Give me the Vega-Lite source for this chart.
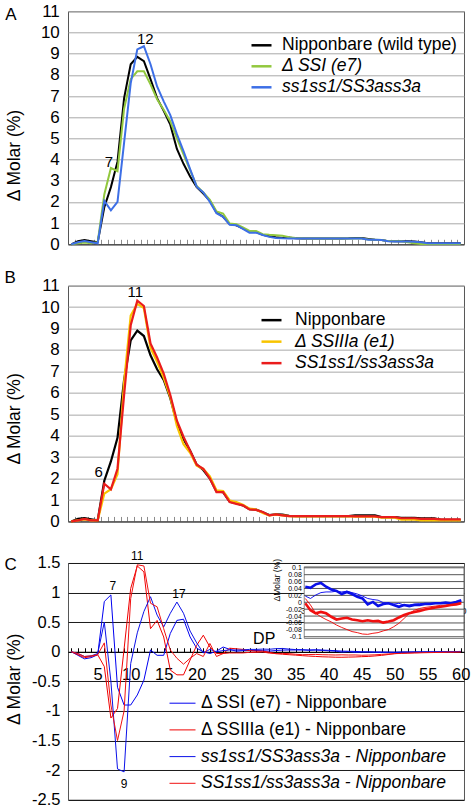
{
"$schema": "https://vega.github.io/schema/vega-lite/v6.json",
"padding": {"left": 3, "top": 1.3, "right": 5, "bottom": 0},
"config": {
  "font": "Liberation Sans",
  "view": {"stroke": "#555555", "strokeWidth": 1},
  "axis": {"labelFont": "Liberation Sans", "titleFont": "Liberation Sans", "labelColor": "#000000", "titleColor": "#000000", "titleFontWeight": "normal", "labelOverlap": false, "labelFlush": false},
  "legend": {"labelFont": "Liberation Sans", "labelColor": "#000000", "labelLimit": 400},
  "text": {"font": "Liberation Sans", "color": "#000000"}
},
"datasets": {
"A": [
{"s":"N","dp":1,"v":0},{"s":"N","dp":2,"v":0.15},{"s":"N","dp":3,"v":0.2},{"s":"N","dp":4,"v":0.15},{"s":"N","dp":5,"v":0.1},{"s":"N","dp":6,"v":1.75},{"s":"N","dp":7,"v":2.7},{"s":"N","dp":8,"v":3.9},{"s":"N","dp":9,"v":6.9},{"s":"N","dp":10,"v":8.5},
{"s":"N","dp":11,"v":8.85},{"s":"N","dp":12,"v":8.65},{"s":"N","dp":13,"v":7.8},{"s":"N","dp":14,"v":6.9},{"s":"N","dp":15,"v":6.3},{"s":"N","dp":16,"v":5.65},{"s":"N","dp":17,"v":4.5},{"s":"N","dp":18,"v":3.8},{"s":"N","dp":19,"v":3.2},{"s":"N","dp":20,"v":2.7},
{"s":"N","dp":21,"v":2.4},{"s":"N","dp":22,"v":2.05},{"s":"N","dp":23,"v":1.5},{"s":"N","dp":24,"v":1.3},{"s":"N","dp":25,"v":0.95},{"s":"N","dp":26,"v":0.9},{"s":"N","dp":27,"v":0.75},{"s":"N","dp":28,"v":0.6},{"s":"N","dp":29,"v":0.58},{"s":"N","dp":30,"v":0.45},
{"s":"N","dp":31,"v":0.38},{"s":"N","dp":32,"v":0.33},{"s":"N","dp":33,"v":0.3},{"s":"N","dp":34,"v":0.32},{"s":"N","dp":35,"v":0.28},{"s":"N","dp":36,"v":0.27},{"s":"N","dp":37,"v":0.27},{"s":"N","dp":38,"v":0.27},{"s":"N","dp":39,"v":0.27},{"s":"N","dp":40,"v":0.27},
{"s":"N","dp":41,"v":0.27},{"s":"N","dp":42,"v":0.27},{"s":"N","dp":43,"v":0.28},{"s":"N","dp":44,"v":0.3},{"s":"N","dp":45,"v":0.3},{"s":"N","dp":46,"v":0.25},{"s":"N","dp":47,"v":0.22},{"s":"N","dp":48,"v":0.2},{"s":"N","dp":49,"v":0.15},{"s":"N","dp":50,"v":0.14},
{"s":"N","dp":51,"v":0.14},{"s":"N","dp":52,"v":0.14},{"s":"N","dp":53,"v":0.13},{"s":"N","dp":54,"v":0.1},{"s":"N","dp":55,"v":0.05},{"s":"N","dp":56,"v":0.05},{"s":"N","dp":57,"v":0.05},{"s":"N","dp":58,"v":0.05},{"s":"N","dp":59,"v":0.05},{"s":"N","dp":60,"v":0.05},
{"s":"S","dp":1,"v":0},{"s":"S","dp":2,"v":0.05},{"s":"S","dp":3,"v":0.08},{"s":"S","dp":4,"v":0.05},{"s":"S","dp":5,"v":0.1},{"s":"S","dp":6,"v":2.35},{"s":"S","dp":7,"v":3.6},{"s":"S","dp":8,"v":3.45},{"s":"S","dp":9,"v":6.4},{"s":"S","dp":10,"v":7.8},
{"s":"S","dp":11,"v":8.17},{"s":"S","dp":12,"v":8.17},{"s":"S","dp":13,"v":7.55},{"s":"S","dp":14,"v":6.85},{"s":"S","dp":15,"v":6.35},{"s":"S","dp":16,"v":5.8},{"s":"S","dp":17,"v":5.0},{"s":"S","dp":18,"v":4.25},{"s":"S","dp":19,"v":3.5},{"s":"S","dp":20,"v":2.75},
{"s":"S","dp":21,"v":2.45},{"s":"S","dp":22,"v":2.1},{"s":"S","dp":23,"v":1.55},{"s":"S","dp":24,"v":1.45},{"s":"S","dp":25,"v":0.98},{"s":"S","dp":26,"v":0.95},{"s":"S","dp":27,"v":0.8},{"s":"S","dp":28,"v":0.63},{"s":"S","dp":29,"v":0.63},{"s":"S","dp":30,"v":0.48},
{"s":"S","dp":31,"v":0.45},{"s":"S","dp":32,"v":0.43},{"s":"S","dp":33,"v":0.4},{"s":"S","dp":34,"v":0.33},{"s":"S","dp":35,"v":0.3},{"s":"S","dp":36,"v":0.28},{"s":"S","dp":37,"v":0.27},{"s":"S","dp":38,"v":0.27},{"s":"S","dp":39,"v":0.27},{"s":"S","dp":40,"v":0.27},
{"s":"S","dp":41,"v":0.27},{"s":"S","dp":42,"v":0.27},{"s":"S","dp":43,"v":0.27},{"s":"S","dp":44,"v":0.27},{"s":"S","dp":45,"v":0.27},{"s":"S","dp":46,"v":0.23},{"s":"S","dp":47,"v":0.22},{"s":"S","dp":48,"v":0.2},{"s":"S","dp":49,"v":0.15},{"s":"S","dp":50,"v":0.14},
{"s":"S","dp":51,"v":0.14},{"s":"S","dp":52,"v":0.1},{"s":"S","dp":53,"v":0.05},{"s":"S","dp":54,"v":0.02},{"s":"S","dp":55,"v":0.02},{"s":"S","dp":56,"v":0.02},{"s":"S","dp":57,"v":0.02},{"s":"S","dp":58,"v":0.02},{"s":"S","dp":59,"v":0.02},{"s":"S","dp":60,"v":0.02},
{"s":"W","dp":1,"v":0},{"s":"W","dp":2,"v":0.1},{"s":"W","dp":3,"v":0.15},{"s":"W","dp":4,"v":0.1},{"s":"W","dp":5,"v":0.05},{"s":"W","dp":6,"v":2.05},{"s":"W","dp":7,"v":1.6},{"s":"W","dp":8,"v":2.0},{"s":"W","dp":9,"v":4.8},{"s":"W","dp":10,"v":7.6},
{"s":"W","dp":11,"v":9.2},{"s":"W","dp":12,"v":9.35},{"s":"W","dp":13,"v":8.5},{"s":"W","dp":14,"v":7.45},{"s":"W","dp":15,"v":6.75},{"s":"W","dp":16,"v":6.1},{"s":"W","dp":17,"v":5.2},{"s":"W","dp":18,"v":4.4},{"s":"W","dp":19,"v":3.55},{"s":"W","dp":20,"v":2.72},
{"s":"W","dp":21,"v":2.45},{"s":"W","dp":22,"v":2.0},{"s":"W","dp":23,"v":1.47},{"s":"W","dp":24,"v":1.3},{"s":"W","dp":25,"v":0.92},{"s":"W","dp":26,"v":0.9},{"s":"W","dp":27,"v":0.73},{"s":"W","dp":28,"v":0.55},{"s":"W","dp":29,"v":0.55},{"s":"W","dp":30,"v":0.44},
{"s":"W","dp":31,"v":0.35},{"s":"W","dp":32,"v":0.3},{"s":"W","dp":33,"v":0.28},{"s":"W","dp":34,"v":0.27},{"s":"W","dp":35,"v":0.27},{"s":"W","dp":36,"v":0.27},{"s":"W","dp":37,"v":0.27},{"s":"W","dp":38,"v":0.27},{"s":"W","dp":39,"v":0.27},{"s":"W","dp":40,"v":0.27},
{"s":"W","dp":41,"v":0.27},{"s":"W","dp":42,"v":0.27},{"s":"W","dp":43,"v":0.27},{"s":"W","dp":44,"v":0.27},{"s":"W","dp":45,"v":0.27},{"s":"W","dp":46,"v":0.22},{"s":"W","dp":47,"v":0.22},{"s":"W","dp":48,"v":0.2},{"s":"W","dp":49,"v":0.14},{"s":"W","dp":50,"v":0.13},
{"s":"W","dp":51,"v":0.13},{"s":"W","dp":52,"v":0.13},{"s":"W","dp":53,"v":0.12},{"s":"W","dp":54,"v":0.1},{"s":"W","dp":55,"v":0.05},{"s":"W","dp":56,"v":0.05},{"s":"W","dp":57,"v":0.05},{"s":"W","dp":58,"v":0.05},{"s":"W","dp":59,"v":0.05},{"s":"W","dp":60,"v":0.05}
],
"B": [
{"s":"N","dp":1,"v":0},{"s":"N","dp":2,"v":0.12},{"s":"N","dp":3,"v":0.15},{"s":"N","dp":4,"v":0.1},{"s":"N","dp":5,"v":0.05},{"s":"N","dp":6,"v":1.9},{"s":"N","dp":7,"v":2.8},{"s":"N","dp":8,"v":3.9},{"s":"N","dp":9,"v":6.6},{"s":"N","dp":10,"v":8.45},
{"s":"N","dp":11,"v":8.9},{"s":"N","dp":12,"v":8.65},{"s":"N","dp":13,"v":7.75},{"s":"N","dp":14,"v":7.1},{"s":"N","dp":15,"v":6.6},{"s":"N","dp":16,"v":5.75},{"s":"N","dp":17,"v":4.6},{"s":"N","dp":18,"v":3.85},{"s":"N","dp":19,"v":3.3},{"s":"N","dp":20,"v":2.65},
{"s":"N","dp":21,"v":2.4},{"s":"N","dp":22,"v":2.0},{"s":"N","dp":23,"v":1.4},{"s":"N","dp":24,"v":1.37},{"s":"N","dp":25,"v":0.92},{"s":"N","dp":26,"v":0.85},{"s":"N","dp":27,"v":0.75},{"s":"N","dp":28,"v":0.57},{"s":"N","dp":29,"v":0.55},{"s":"N","dp":30,"v":0.43},
{"s":"N","dp":31,"v":0.3},{"s":"N","dp":32,"v":0.33},{"s":"N","dp":33,"v":0.32},{"s":"N","dp":34,"v":0.26},{"s":"N","dp":35,"v":0.25},{"s":"N","dp":36,"v":0.25},{"s":"N","dp":37,"v":0.25},{"s":"N","dp":38,"v":0.25},{"s":"N","dp":39,"v":0.25},{"s":"N","dp":40,"v":0.25},
{"s":"N","dp":41,"v":0.25},{"s":"N","dp":42,"v":0.25},{"s":"N","dp":43,"v":0.25},{"s":"N","dp":44,"v":0.28},{"s":"N","dp":45,"v":0.28},{"s":"N","dp":46,"v":0.28},{"s":"N","dp":47,"v":0.28},{"s":"N","dp":48,"v":0.2},{"s":"N","dp":49,"v":0.2},{"s":"N","dp":50,"v":0.2},
{"s":"N","dp":51,"v":0.17},{"s":"N","dp":52,"v":0.17},{"s":"N","dp":53,"v":0.17},{"s":"N","dp":54,"v":0.14},{"s":"N","dp":55,"v":0.14},{"s":"N","dp":56,"v":0.14},{"s":"N","dp":57,"v":0.08},{"s":"N","dp":58,"v":0.08},{"s":"N","dp":59,"v":0.08},{"s":"N","dp":60,"v":0.08},
{"s":"Y","dp":1,"v":0},{"s":"Y","dp":2,"v":0.05},{"s":"Y","dp":3,"v":0.1},{"s":"Y","dp":4,"v":0.05},{"s":"Y","dp":5,"v":0.05},{"s":"Y","dp":6,"v":1.3},{"s":"Y","dp":7,"v":1.5},{"s":"Y","dp":8,"v":2.2},{"s":"Y","dp":9,"v":6.5},{"s":"Y","dp":10,"v":9.6},
{"s":"Y","dp":11,"v":10.15},{"s":"Y","dp":12,"v":9.95},{"s":"Y","dp":13,"v":8.1},{"s":"Y","dp":14,"v":7.45},{"s":"Y","dp":15,"v":6.7},{"s":"Y","dp":16,"v":5.8},{"s":"Y","dp":17,"v":4.45},{"s":"Y","dp":18,"v":3.6},{"s":"Y","dp":19,"v":3.2},{"s":"Y","dp":20,"v":2.6},
{"s":"Y","dp":21,"v":2.45},{"s":"Y","dp":22,"v":2.1},{"s":"Y","dp":23,"v":1.45},{"s":"Y","dp":24,"v":1.42},{"s":"Y","dp":25,"v":0.98},{"s":"Y","dp":26,"v":0.9},{"s":"Y","dp":27,"v":0.78},{"s":"Y","dp":28,"v":0.6},{"s":"Y","dp":29,"v":0.56},{"s":"Y","dp":30,"v":0.4},
{"s":"Y","dp":31,"v":0.28},{"s":"Y","dp":32,"v":0.32},{"s":"Y","dp":33,"v":0.28},{"s":"Y","dp":34,"v":0.25},{"s":"Y","dp":35,"v":0.23},{"s":"Y","dp":36,"v":0.23},{"s":"Y","dp":37,"v":0.23},{"s":"Y","dp":38,"v":0.23},{"s":"Y","dp":39,"v":0.23},{"s":"Y","dp":40,"v":0.23},
{"s":"Y","dp":41,"v":0.23},{"s":"Y","dp":42,"v":0.23},{"s":"Y","dp":43,"v":0.23},{"s":"Y","dp":44,"v":0.22},{"s":"Y","dp":45,"v":0.22},{"s":"Y","dp":46,"v":0.22},{"s":"Y","dp":47,"v":0.22},{"s":"Y","dp":48,"v":0.18},{"s":"Y","dp":49,"v":0.18},{"s":"Y","dp":50,"v":0.18},
{"s":"Y","dp":51,"v":0.08},{"s":"Y","dp":52,"v":0.08},{"s":"Y","dp":53,"v":0.08},{"s":"Y","dp":54,"v":0.05},{"s":"Y","dp":55,"v":0.05},{"s":"Y","dp":56,"v":0.05},{"s":"Y","dp":57,"v":0.05},{"s":"Y","dp":58,"v":0.05},{"s":"Y","dp":59,"v":0.05},{"s":"Y","dp":60,"v":0.05},
{"s":"R","dp":1,"v":0},{"s":"R","dp":2,"v":0.05},{"s":"R","dp":3,"v":0.12},{"s":"R","dp":4,"v":0.05},{"s":"R","dp":5,"v":0.05},{"s":"R","dp":6,"v":1.76},{"s":"R","dp":7,"v":1.5},{"s":"R","dp":8,"v":2.46},{"s":"R","dp":9,"v":5.9},{"s":"R","dp":10,"v":9.15},
{"s":"R","dp":11,"v":10.3},{"s":"R","dp":12,"v":10.05},{"s":"R","dp":13,"v":8.3},{"s":"R","dp":14,"v":7.65},{"s":"R","dp":15,"v":6.9},{"s":"R","dp":16,"v":5.9},{"s":"R","dp":17,"v":4.7},{"s":"R","dp":18,"v":3.95},{"s":"R","dp":19,"v":3.3},{"s":"R","dp":20,"v":2.65},
{"s":"R","dp":21,"v":2.46},{"s":"R","dp":22,"v":2.0},{"s":"R","dp":23,"v":1.37},{"s":"R","dp":24,"v":1.37},{"s":"R","dp":25,"v":0.9},{"s":"R","dp":26,"v":0.82},{"s":"R","dp":27,"v":0.75},{"s":"R","dp":28,"v":0.56},{"s":"R","dp":29,"v":0.54},{"s":"R","dp":30,"v":0.44},
{"s":"R","dp":31,"v":0.28},{"s":"R","dp":32,"v":0.33},{"s":"R","dp":33,"v":0.28},{"s":"R","dp":34,"v":0.25},{"s":"R","dp":35,"v":0.25},{"s":"R","dp":36,"v":0.25},{"s":"R","dp":37,"v":0.25},{"s":"R","dp":38,"v":0.25},{"s":"R","dp":39,"v":0.25},{"s":"R","dp":40,"v":0.25},
{"s":"R","dp":41,"v":0.25},{"s":"R","dp":42,"v":0.25},{"s":"R","dp":43,"v":0.25},{"s":"R","dp":44,"v":0.24},{"s":"R","dp":45,"v":0.24},{"s":"R","dp":46,"v":0.24},{"s":"R","dp":47,"v":0.24},{"s":"R","dp":48,"v":0.2},{"s":"R","dp":49,"v":0.2},{"s":"R","dp":50,"v":0.2},
{"s":"R","dp":51,"v":0.15},{"s":"R","dp":52,"v":0.15},{"s":"R","dp":53,"v":0.15},{"s":"R","dp":54,"v":0.12},{"s":"R","dp":55,"v":0.12},{"s":"R","dp":56,"v":0.12},{"s":"R","dp":57,"v":0.1},{"s":"R","dp":58,"v":0.1},{"s":"R","dp":59,"v":0.1},{"s":"R","dp":60,"v":0.1}
],
"C": [
{"s":"TB","dp":1,"v":0},{"s":"TB","dp":2,"v":-0.06},{"s":"TB","dp":3,"v":-0.12},{"s":"TB","dp":4,"v":-0.1},{"s":"TB","dp":5,"v":-0.05},{"s":"TB","dp":6,"v":0.85},{"s":"TB","dp":7,"v":0.96},{"s":"TB","dp":8,"v":-0.6},{"s":"TB","dp":9,"v":-0.9},{"s":"TB","dp":10,"v":-0.9},
{"s":"TB","dp":11,"v":-0.73},{"s":"TB","dp":12,"v":-0.48},{"s":"TB","dp":13,"v":0.03},{"s":"TB","dp":14,"v":-0.06},{"s":"TB","dp":15,"v":-0.06},{"s":"TB","dp":16,"v":0.31},{"s":"TB","dp":17,"v":0.53},{"s":"TB","dp":18,"v":0.55},{"s":"TB","dp":19,"v":0.25},{"s":"TB","dp":20,"v":0.06},
{"s":"TB","dp":21,"v":0},{"s":"TB","dp":22,"v":-0.03},{"s":"TB","dp":23,"v":0.01},{"s":"TB","dp":24,"v":0.08},{"s":"TB","dp":25,"v":0.04},{"s":"TB","dp":26,"v":0.01},{"s":"TB","dp":27,"v":0.02},{"s":"TB","dp":28,"v":0.02},{"s":"TB","dp":29,"v":0.02},{"s":"TB","dp":30,"v":0.018},
{"s":"TB","dp":31,"v":0.011},{"s":"TB","dp":32,"v":0.021},{"s":"TB","dp":33,"v":0.028},{"s":"TB","dp":34,"v":0.03},{"s":"TB","dp":35,"v":0.03},{"s":"TB","dp":36,"v":0.032},{"s":"TB","dp":37,"v":0.03},{"s":"TB","dp":38,"v":0.032},{"s":"TB","dp":39,"v":0.028},{"s":"TB","dp":40,"v":0.024},
{"s":"TB","dp":41,"v":0.018},{"s":"TB","dp":42,"v":0.011},{"s":"TB","dp":43,"v":0.008},{"s":"TB","dp":44,"v":0.006},{"s":"TB","dp":45,"v":-0.001},{"s":"TB","dp":46,"v":-0.003},{"s":"TB","dp":47,"v":-0.005},{"s":"TB","dp":48,"v":-0.003},{"s":"TB","dp":49,"v":-0.008},{"s":"TB","dp":50,"v":-0.008},
{"s":"TB","dp":51,"v":-0.005},{"s":"TB","dp":52,"v":-0.004},{"s":"TB","dp":53,"v":-0.003},{"s":"TB","dp":54,"v":-0.003},{"s":"TB","dp":55,"v":-0.002},{"s":"TB","dp":56,"v":-0.002},{"s":"TB","dp":57,"v":-0.002},{"s":"TB","dp":58,"v":-0.001},{"s":"TB","dp":59,"v":0},{"s":"TB","dp":60,"v":0.002},
{"s":"TR","dp":1,"v":0},{"s":"TR","dp":2,"v":-0.05},{"s":"TR","dp":3,"v":-0.1},{"s":"TR","dp":4,"v":-0.08},{"s":"TR","dp":5,"v":-0.05},{"s":"TR","dp":6,"v":-0.25},{"s":"TR","dp":7,"v":-1.12},{"s":"TR","dp":8,"v":-0.96},{"s":"TR","dp":9,"v":0.05},{"s":"TR","dp":10,"v":1.07},
{"s":"TR","dp":11,"v":1.45},{"s":"TR","dp":12,"v":1.35},{"s":"TR","dp":13,"v":0.39},{"s":"TR","dp":14,"v":0.53},{"s":"TR","dp":15,"v":0.25},{"s":"TR","dp":16,"v":-0.31},{"s":"TR","dp":17,"v":-0.39},{"s":"TR","dp":18,"v":-0.39},{"s":"TR","dp":19,"v":-0.14},{"s":"TR","dp":20,"v":0.11},
{"s":"TR","dp":21,"v":0.28},{"s":"TR","dp":22,"v":0.08},{"s":"TR","dp":23,"v":-0.03},{"s":"TR","dp":24,"v":-0.03},{"s":"TR","dp":25,"v":0.06},{"s":"TR","dp":26,"v":0.05},{"s":"TR","dp":27,"v":0.04},{"s":"TR","dp":28,"v":0.02},{"s":"TR","dp":29,"v":0.01},{"s":"TR","dp":30,"v":0.011},
{"s":"TR","dp":31,"v":-0.008},{"s":"TR","dp":32,"v":-0.032},{"s":"TR","dp":33,"v":-0.042},{"s":"TR","dp":34,"v":-0.05},{"s":"TR","dp":35,"v":-0.057},{"s":"TR","dp":36,"v":-0.066},{"s":"TR","dp":37,"v":-0.073},{"s":"TR","dp":38,"v":-0.079},{"s":"TR","dp":39,"v":-0.085},{"s":"TR","dp":40,"v":-0.088},
{"s":"TR","dp":41,"v":-0.092},{"s":"TR","dp":42,"v":-0.093},{"s":"TR","dp":43,"v":-0.09},{"s":"TR","dp":44,"v":-0.088},{"s":"TR","dp":45,"v":-0.083},{"s":"TR","dp":46,"v":-0.079},{"s":"TR","dp":47,"v":-0.071},{"s":"TR","dp":48,"v":-0.061},{"s":"TR","dp":49,"v":-0.047},{"s":"TR","dp":50,"v":-0.032},
{"s":"TR","dp":51,"v":-0.023},{"s":"TR","dp":52,"v":-0.018},{"s":"TR","dp":53,"v":-0.015},{"s":"TR","dp":54,"v":-0.013},{"s":"TR","dp":55,"v":-0.011},{"s":"TR","dp":56,"v":-0.009},{"s":"TR","dp":57,"v":-0.008},{"s":"TR","dp":58,"v":-0.006},{"s":"TR","dp":59,"v":-0.003},{"s":"TR","dp":60,"v":-0.001},
{"s":"KB","dp":1,"v":0},{"s":"KB","dp":2,"v":-0.03},{"s":"KB","dp":3,"v":-0.08},{"s":"KB","dp":4,"v":-0.07},{"s":"KB","dp":5,"v":-0.03},{"s":"KB","dp":6,"v":0.5},{"s":"KB","dp":7,"v":-0.5},{"s":"KB","dp":8,"v":-1.98},{"s":"KB","dp":9,"v":-2.03},{"s":"KB","dp":10,"v":-0.2},
{"s":"KB","dp":11,"v":0.32},{"s":"KB","dp":12,"v":0.68},{"s":"KB","dp":13,"v":0.93},{"s":"KB","dp":14,"v":0.62},{"s":"KB","dp":15,"v":0.42},{"s":"KB","dp":16,"v":0.65},{"s":"KB","dp":17,"v":0.84},{"s":"KB","dp":18,"v":0.65},{"s":"KB","dp":19,"v":0.35},{"s":"KB","dp":20,"v":0.15},
{"s":"KB","dp":21,"v":-0.02},{"s":"KB","dp":22,"v":0.04},{"s":"KB","dp":23,"v":0},{"s":"KB","dp":24,"v":0.02},{"s":"KB","dp":25,"v":0.03},{"s":"KB","dp":26,"v":0.03},{"s":"KB","dp":27,"v":0.03},{"s":"KB","dp":28,"v":0.04},{"s":"KB","dp":29,"v":0.04},{"s":"KB","dp":30,"v":0.045},
{"s":"KB","dp":31,"v":0.042},{"s":"KB","dp":32,"v":0.052},{"s":"KB","dp":33,"v":0.056},{"s":"KB","dp":34,"v":0.045},{"s":"KB","dp":35,"v":0.037},{"s":"KB","dp":36,"v":0.033},{"s":"KB","dp":37,"v":0.024},{"s":"KB","dp":38,"v":0.03},{"s":"KB","dp":39,"v":0.024},{"s":"KB","dp":40,"v":0.016},
{"s":"KB","dp":41,"v":0.011},{"s":"KB","dp":42,"v":-0.006},{"s":"KB","dp":43,"v":0.001},{"s":"KB","dp":44,"v":-0.011},{"s":"KB","dp":45,"v":-0.005},{"s":"KB","dp":46,"v":-0.003},{"s":"KB","dp":47,"v":-0.008},{"s":"KB","dp":48,"v":-0.013},{"s":"KB","dp":49,"v":-0.008},{"s":"KB","dp":50,"v":-0.011},
{"s":"KB","dp":51,"v":-0.008},{"s":"KB","dp":52,"v":-0.008},{"s":"KB","dp":53,"v":-0.005},{"s":"KB","dp":54,"v":-0.005},{"s":"KB","dp":55,"v":-0.003},{"s":"KB","dp":56,"v":-0.003},{"s":"KB","dp":57,"v":-0.001},{"s":"KB","dp":58,"v":-0.003},{"s":"KB","dp":59,"v":0.001},{"s":"KB","dp":60,"v":0.006},
{"s":"KR","dp":1,"v":0},{"s":"KR","dp":2,"v":-0.03},{"s":"KR","dp":3,"v":-0.08},{"s":"KR","dp":4,"v":-0.07},{"s":"KR","dp":5,"v":-0.05},{"s":"KR","dp":6,"v":0.15},{"s":"KR","dp":7,"v":-0.9},{"s":"KR","dp":8,"v":-1.5},{"s":"KR","dp":9,"v":-1.0},{"s":"KR","dp":10,"v":0.9},
{"s":"KR","dp":11,"v":1.47},{"s":"KR","dp":12,"v":1.45},{"s":"KR","dp":13,"v":0.82},{"s":"KR","dp":14,"v":0.76},{"s":"KR","dp":15,"v":0.39},{"s":"KR","dp":16,"v":0.03},{"s":"KR","dp":17,"v":-0.11},{"s":"KR","dp":18,"v":-0.21},{"s":"KR","dp":19,"v":-0.11},{"s":"KR","dp":20,"v":-0.03},
{"s":"KR","dp":21,"v":-0.08},{"s":"KR","dp":22,"v":0.14},{"s":"KR","dp":23,"v":-0.08},{"s":"KR","dp":24,"v":-0.03},{"s":"KR","dp":25,"v":-0.02},{"s":"KR","dp":26,"v":-0.02},{"s":"KR","dp":27,"v":-0.02},{"s":"KR","dp":28,"v":-0.01},{"s":"KR","dp":29,"v":-0.01},{"s":"KR","dp":30,"v":-0.003},
{"s":"KR","dp":31,"v":-0.023},{"s":"KR","dp":32,"v":-0.032},{"s":"KR","dp":33,"v":-0.028},{"s":"KR","dp":34,"v":-0.032},{"s":"KR","dp":35,"v":-0.042},{"s":"KR","dp":36,"v":-0.05},{"s":"KR","dp":37,"v":-0.047},{"s":"KR","dp":38,"v":-0.045},{"s":"KR","dp":39,"v":-0.05},{"s":"KR","dp":40,"v":-0.052},
{"s":"KR","dp":41,"v":-0.055},{"s":"KR","dp":42,"v":-0.052},{"s":"KR","dp":43,"v":-0.055},{"s":"KR","dp":44,"v":-0.054},{"s":"KR","dp":45,"v":-0.059},{"s":"KR","dp":46,"v":-0.056},{"s":"KR","dp":47,"v":-0.052},{"s":"KR","dp":48,"v":-0.044},{"s":"KR","dp":49,"v":-0.037},{"s":"KR","dp":50,"v":-0.032},
{"s":"KR","dp":51,"v":-0.028},{"s":"KR","dp":52,"v":-0.025},{"s":"KR","dp":53,"v":-0.021},{"s":"KR","dp":54,"v":-0.018},{"s":"KR","dp":55,"v":-0.015},{"s":"KR","dp":56,"v":-0.013},{"s":"KR","dp":57,"v":-0.011},{"s":"KR","dp":58,"v":-0.008},{"s":"KR","dp":59,"v":-0.006},{"s":"KR","dp":60,"v":-0.003}
],
"insetGrid": [{"g":-0.1},{"g":-0.08},{"g":-0.06},{"g":-0.04},{"g":-0.02},{"g":0},{"g":0.02},{"g":0.04},{"g":0.06},{"g":0.08},{"g":0.1}],
"one": [{}]
},
"bounds": "flush",
"spacing": 41.35,
"resolve": {"scale": {"color": "independent", "strokeWidth": "independent"}},
"vconcat": [
  {
    "width": 396, "height": 233,
    "data": {"name": "A"},
    "layer": [
      {
        "mark": {"type": "line", "strokeWidth": 2},
        "encoding": {
          "x": {"field": "dp", "type": "quantitative", "scale": {"domain": [0.5, 60.5], "nice": false, "zero": false},
                "axis": {"values": [1.5,2.5,3.5,4.5,5.5,6.5,7.5,8.5,9.5,10.5,11.5,12.5,13.5,14.5,15.5,16.5,17.5,18.5,19.5,20.5,21.5,22.5,23.5,24.5,25.5,26.5,27.5,28.5,29.5,30.5,31.5,32.5,33.5,34.5,35.5,36.5,37.5,38.5,39.5,40.5,41.5,42.5,43.5,44.5,45.5,46.5,47.5,48.5,49.5,50.5,51.5,52.5,53.5,54.5,55.5,56.5,57.5,58.5,59.5],
                         "tickCount": 1000, "labels": false, "tickSize": -5, "tickColor": "#8c8c8c", "domainColor": "#333333", "grid": false, "title": null}},
          "y": {"field": "v", "type": "quantitative", "scale": {"domain": [0, 11], "nice": false, "zero": false},
                "axis": {"values": [0,1,2,3,4,5,6,7,8,9,10,11], "tickCount": 1000, "labelExpr": "'' + datum.value", "labelOverlap": false, "grid": true, "gridColor": "#a8a8a8", "ticks": false, "domain": false, "labelFontSize": 17, "labelPadding": 8.7,
                         "title": "Δ Molar (%)", "titleFontSize": 17.5, "titleX": -54, "titleY": 143.7, "titleAngle": -90, "titleAlign": "center", "titleBaseline": "middle"}},
          "color": {"field": "s", "type": "nominal", "scale": {"domain": ["N","S","W"], "range": ["#000000","#92c83e","#3d6fe6"]},
                    "legend": {"title": null, "orient": "none", "legendX": 182, "legendY": 22.5, "padding": 0, "symbolType": "stroke", "symbolSize": 400, "symbolStrokeWidth": 2.5, "labelFontSize": 17.5, "labelOffset": 9, "rowPadding": 1,
                               "labelExpr": "datum.label == 'N' ? 'Nipponbare (wild type)' : datum.label == 'S' ? 'Δ SSI (e7)' : 'ss1ss1/SS3ass3a'",
                               "labelFontStyle": {"expr": "datum.label == 'N' ? 'normal' : 'italic'"}}}
        }
      },
      {"data": {"name": "one"}, "mark": {"type": "text", "fontSize": 17, "align": "left", "baseline": "alphabetic"},
       "encoding": {"x": {"datum": -9.0, "type": "quantitative"}, "y": {"datum": 10.6, "type": "quantitative"}, "text": {"value": "A"}}},
      {"data": {"name": "one"}, "mark": {"type": "text", "fontSize": 15, "baseline": "alphabetic", "dx": -2, "dy": -1.5},
       "encoding": {"x": {"datum": 7, "type": "quantitative"}, "y": {"datum": 3.6, "type": "quantitative"}, "text": {"value": "7"}}},
      {"data": {"name": "one"}, "mark": {"type": "text", "fontSize": 15, "baseline": "alphabetic", "dx": 1.4, "dy": -2.6},
       "encoding": {"x": {"datum": 12, "type": "quantitative"}, "y": {"datum": 9.35, "type": "quantitative"}, "text": {"value": "12"}}}
    ]
  },
  {
    "width": 396, "height": 235.8,
    "data": {"name": "B"},
    "layer": [
      {
        "mark": {"type": "line", "strokeWidth": 2.2},
        "encoding": {
          "x": {"field": "dp", "type": "quantitative", "scale": {"domain": [0.5, 60.5], "nice": false, "zero": false},
                "axis": {"values": [1.5,2.5,3.5,4.5,5.5,6.5,7.5,8.5,9.5,10.5,11.5,12.5,13.5,14.5,15.5,16.5,17.5,18.5,19.5,20.5,21.5,22.5,23.5,24.5,25.5,26.5,27.5,28.5,29.5,30.5,31.5,32.5,33.5,34.5,35.5,36.5,37.5,38.5,39.5,40.5,41.5,42.5,43.5,44.5,45.5,46.5,47.5,48.5,49.5,50.5,51.5,52.5,53.5,54.5,55.5,56.5,57.5,58.5,59.5],
                         "tickCount": 1000, "labels": false, "tickSize": -5, "tickColor": "#8c8c8c", "domainColor": "#333333", "grid": false, "title": null}},
          "y": {"field": "v", "type": "quantitative", "scale": {"domain": [0, 11], "nice": false, "zero": false},
                "axis": {"values": [0,1,2,3,4,5,6,7,8,9,10,11], "tickCount": 1000, "labelExpr": "'' + datum.value", "labelOverlap": false, "grid": true, "gridColor": "#a8a8a8", "ticks": false, "domain": false, "labelFontSize": 17, "labelPadding": 8.7,
                         "title": "Δ Molar (%)", "titleFontSize": 17.5, "titleX": -54, "titleY": 132.8, "titleAngle": -90, "titleAlign": "center", "titleBaseline": "middle"}},
          "color": {"field": "s", "type": "nominal", "scale": {"domain": ["N","Y","R"], "range": ["#000000","#f8c400","#ea1c1c"]},
                    "legend": {"title": null, "orient": "none", "legendX": 192, "legendY": 23, "padding": 0, "symbolType": "stroke", "symbolSize": 400, "symbolStrokeWidth": 2.5, "labelFontSize": 17.5, "labelOffset": 12, "rowPadding": 1.5,
                               "labelExpr": "datum.label == 'N' ? 'Nipponbare' : datum.label == 'Y' ? 'Δ SSIIIa (e1)' : 'SS1ss1/ss3ass3a'",
                               "labelFontStyle": {"expr": "datum.label == 'N' ? 'normal' : 'italic'"}}}
        }
      },
      {"data": {"name": "one"}, "mark": {"type": "text", "fontSize": 17, "align": "left", "baseline": "alphabetic"},
       "encoding": {"x": {"datum": -9.14, "type": "quantitative"}, "y": {"datum": 11.11, "type": "quantitative"}, "text": {"value": "B"}}},
      {"data": {"name": "one"}, "mark": {"type": "text", "fontSize": 15, "baseline": "alphabetic", "dx": -2, "dy": -3.6},
       "encoding": {"x": {"datum": 11, "type": "quantitative"}, "y": {"datum": 10.3, "type": "quantitative"}, "text": {"value": "11"}}},
      {"data": {"name": "one"}, "mark": {"type": "text", "fontSize": 15, "baseline": "alphabetic", "dx": -5.6, "dy": -6.7},
       "encoding": {"x": {"datum": 6, "type": "quantitative"}, "y": {"datum": 1.76, "type": "quantitative"}, "text": {"value": "6"}}}
    ]
  },
{
  "width": 396, "height": 236.7,
  "data": {"name": "C"},
  "layer": [
    {
      "layer": [
        {
          "mark": {"type": "line"},
          "encoding": {
            "x": {"field": "dp", "type": "quantitative", "scale": {"domain": [0.5, 60.5], "nice": false, "zero": false},
                  "axis": {"orient": "bottom", "offset": -147.94, "values": [1,2,3,4,5,6,7,8,9,10,11,12,13,14,15,16,17,18,19,20,21,22,23,24,25,26,27,28,29,30,31,32,33,34,35,36,37,38,39,40,41,42,43,44,45,46,47,48,49,50,51,52,53,54,55,56,57,58,59,60],
                           "tickCount": 1000, "labelOverlap": false, "labelExpr": "datum.value % 5 == 0 ? '' + datum.value : ''", "labelFontSize": 16.5, "labelPadding": 18.4, "tickSize": -4, "tickColor": "#000000", "domainColor": "#000000", "grid": false,
                           "title": "DP", "titleFontSize": 16, "titleX": 195.7, "titleY": -13.3, "titleAlign": "center", "titleBaseline": "middle"}},
            "y": {"field": "v", "type": "quantitative", "scale": {"domain": [-2.5, 1.5], "nice": false, "zero": false},
                  "axis": {"orient": "left", "values": [-2.5,-2,-1.5,-1,-0.5,0,0.5,1,1.5], "tickCount": 1000, "labelOverlap": false, "labelExpr": "'' + datum.value", "grid": true, "gridColor": "#1a1a1a", "ticks": false, "domain": false, "labelFontSize": 16.5, "labelPadding": 8,
                           "title": "Δ Molar (%)", "titleFontSize": 17.5, "titleX": -54, "titleY": 115.8, "titleAngle": -90, "titleAlign": "center", "titleBaseline": "middle"}},
            "color": {"field": "s", "type": "nominal", "scale": {"domain": ["TB","TR","KB","KR"], "range": ["#0000f0","#f00000","#0a10e8","#f01010"]},
                      "legend": {"title": null, "orient": "none", "legendX": 101, "legendY": 126.7, "padding": 0, "symbolType": "stroke", "symbolSize": 676, "labelFontSize": 17.5, "labelOffset": 5, "rowPadding": 4.7,
                                 "labelExpr": "datum.label == 'TB' ? 'Δ SSI (e7) - Nipponbare' : datum.label == 'TR' ? 'Δ SSIIIa (e1) - Nipponbare' : datum.label == 'KB' ? 'ss1ss1/SS3ass3a - Nipponbare' : 'SS1ss1/ss3ass3a - Nipponbare'",
                                 "labelFontStyle": {"expr": "datum.label == 'KB' || datum.label == 'KR' ? 'italic' : 'normal'"}}},
            "strokeWidth": {"field": "s", "type": "nominal", "scale": {"domain": ["TB","TR","KB","KR"], "range": [1, 1, 4, 4]},
                      "legend": {"title": null, "orient": "none", "legendX": 101, "legendY": 126.7, "padding": 0, "symbolType": "stroke", "symbolSize": 676, "labelFontSize": 17.5, "labelOffset": 5, "rowPadding": 4.7,
                                 "labelExpr": "datum.label == 'TB' ? 'Δ SSI (e7) - Nipponbare' : datum.label == 'TR' ? 'Δ SSIIIa (e1) - Nipponbare' : datum.label == 'KB' ? 'ss1ss1/SS3ass3a - Nipponbare' : 'SS1ss1/ss3ass3a - Nipponbare'",
                                 "labelFontStyle": {"expr": "datum.label == 'KB' || datum.label == 'KR' ? 'italic' : 'normal'"}}}
          }
        },
        {"data": {"name": "one"}, "mark": {"type": "text", "fontSize": 17, "align": "left", "baseline": "alphabetic"},
         "encoding": {"x": {"datum": -9.14, "type": "quantitative"}, "y": {"datum": 1.382, "type": "quantitative"}, "text": {"value": "C"}}},
        {"data": {"name": "one"}, "mark": {"type": "text", "fontSize": 12, "baseline": "alphabetic", "dx": 0, "dy": -5},
         "encoding": {"x": {"datum": 11, "type": "quantitative"}, "y": {"datum": 1.47, "type": "quantitative"}, "text": {"value": "11"}}},
        {"data": {"name": "one"}, "mark": {"type": "text", "fontSize": 12, "baseline": "alphabetic", "dx": 2, "dy": -5},
         "encoding": {"x": {"datum": 7, "type": "quantitative"}, "y": {"datum": 0.96, "type": "quantitative"}, "text": {"value": "7"}}},
        {"data": {"name": "one"}, "mark": {"type": "text", "fontSize": 12, "baseline": "alphabetic", "dx": 2, "dy": -4.3},
         "encoding": {"x": {"datum": 17, "type": "quantitative"}, "y": {"datum": 0.84, "type": "quantitative"}, "text": {"value": "17"}}},
        {"data": {"name": "one"}, "mark": {"type": "text", "fontSize": 12, "baseline": "top", "dx": 0, "dy": 7},
         "encoding": {"x": {"datum": 9, "type": "quantitative"}, "y": {"datum": -2.03, "type": "quantitative"}, "text": {"value": "9"}}}
      ]
    },
    {
      "layer": [
        {
          "data": {"name": "one"},
          "mark": {"type": "rect", "fill": "#ffffff", "stroke": "#8a8a8a", "strokeWidth": 1},
          "encoding": {
            "x": {"datum": 29.8, "type": "quantitative", "scale": {"domain": [-15.63, 60.52], "nice": false, "zero": false},
                  "axis": {"orient": "bottom", "offset": -197.4, "values": [30,31,32,33,34,35,36,37,38,39,40,41,42,43,44,45,46,47,48,49,50,51,52,53,54,55,56,57,58,59,60],
                           "tickCount": 1000, "labelOverlap": false, "labelExpr": "datum.value % 5 == 0 ? '' + datum.value : ''", "labelFontSize": 8.5, "labelPadding": 6.9, "tickSize": -3, "tickColor": "#000000", "domain": false, "grid": false,
                           "title": "DP", "titleFontSize": 9, "titleX": 315.7, "titleY": 16, "titleAlign": "center", "titleBaseline": "middle"}},
            "x2": {"datum": 60.5},
            "y": {"datum": 0.103, "type": "quantitative", "scale": {"domain": [-0.5725, 0.1139], "nice": false, "zero": false},
                  "axis": {"orient": "left", "offset": -236.3, "values": [-0.1,-0.08,-0.06,-0.04,-0.02,0,0.02,0.04,0.06,0.08,0.1], "tickCount": 1000, "labelOverlap": false, "labelExpr": "'' + datum.value", "labelFontSize": 7, "labelPadding": 3, "ticks": false, "domain": false, "grid": false,
                           "title": "ΔMolar (%)", "titleFontSize": 8.5, "titleX": -27.3, "titleY": 16.7, "titleAngle": -90, "titleAlign": "center", "titleBaseline": "middle"}},
            "y2": {"datum": -0.105}
          }
        },
        {
          "data": {"name": "insetGrid"},
          "mark": {"type": "rule", "stroke": "#2a2a2a", "strokeWidth": 0.8},
          "encoding": {
            "y": {"field": "g", "type": "quantitative"},
            "x": {"datum": 29.8, "type": "quantitative"},
            "x2": {"datum": 60.5}
          }
        },
        {
          "transform": [{"filter": "datum.dp >= 30"}],
          "mark": {"type": "line"},
          "encoding": {
            "x": {"field": "dp", "type": "quantitative"},
            "y": {"field": "v", "type": "quantitative"},
            "color": {"field": "s", "type": "nominal", "legend": null},
            "strokeWidth": {"condition": {"test": "datum.s == 'KB' || datum.s == 'KR'", "value": 2.6}, "value": 0.9}
          }
        }
      ]
    }
  ],
  "resolve": {"scale": {"x": "independent", "y": "independent"}}
}
]
}
